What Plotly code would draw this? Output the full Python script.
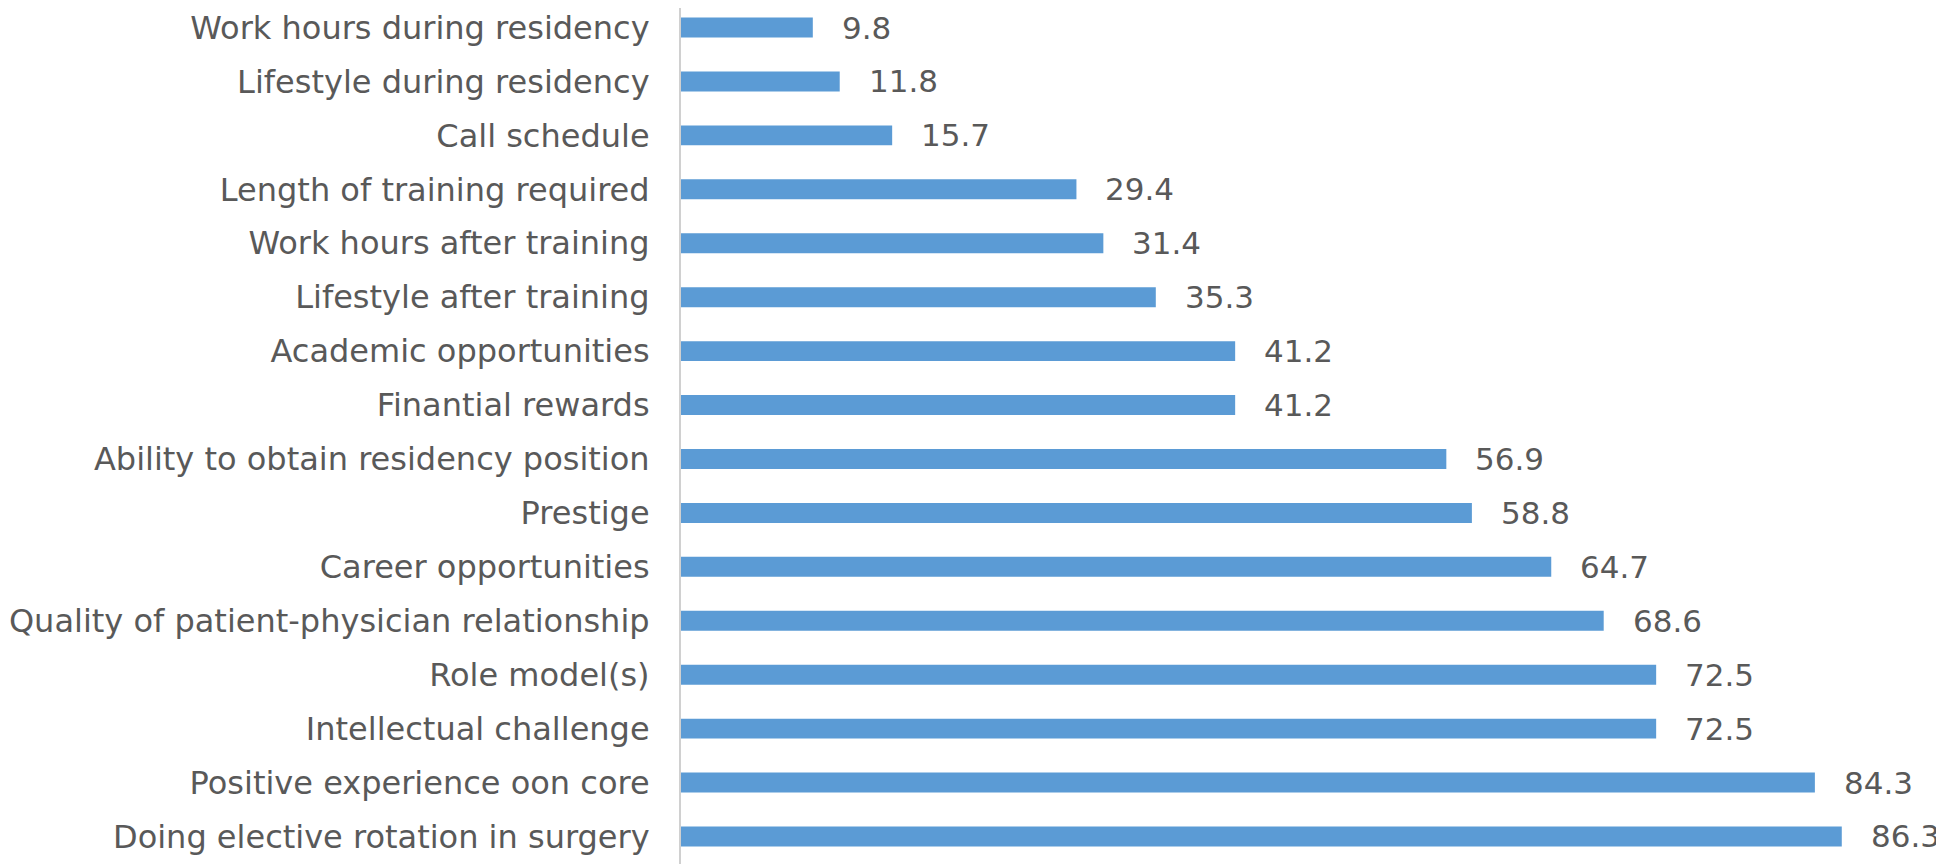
import plotly.graph_objects as go

categories = [
    "Work hours during residency",
    "Lifestyle during residency",
    "Call schedule",
    "Length of training required",
    "Work hours after training",
    "Lifestyle after training",
    "Academic opportunities",
    "Finantial rewards",
    "Ability to obtain residency position",
    "Prestige",
    "Career opportunities",
    "Quality of patient-physician relationship",
    "Role model(s)",
    "Intellectual challenge",
    "Positive experience oon core",
    "Doing elective rotation in surgery",
]
values = [9.8, 11.8, 15.7, 29.4, 31.4, 35.3, 41.2, 41.2, 56.9, 58.8, 64.7, 68.6, 72.5, 72.5, 84.3, 86.3]

FONT = "DejaVu Sans"
TXT = "#595959"

fig = go.Figure(go.Bar(
    x=values, y=categories, orientation="h",
    marker=dict(color="#5B9BD5", line=dict(color="#5B9BD5", width=0)),
))

for v, c in zip(values, categories):
    fig.add_annotation(x=v, y=c, text=f"{v:.1f}", showarrow=False,
                       xanchor="left", xshift=27, font=dict(family=FONT, size=31, color=TXT))

fig.update_layout(
    width=1944, height=864,
    margin=dict(l=673, r=8, t=0, b=8, autoexpand=False),
    paper_bgcolor="white", plot_bgcolor="white",
    bargap=0.63,
    showlegend=False,
    font=dict(family=FONT, size=32, color=TXT),
)
fig.update_xaxes(range=[0, 93.9], visible=False, showgrid=False, zeroline=False, automargin=False)
fig.update_yaxes(range=[15.51, -0.362], showgrid=False, zeroline=False, automargin=False,
                 showline=True, linecolor="#D0D0D0", linewidth=2,
                 ticks="", ticklabelstandoff=23,
                 tickfont=dict(family=FONT, size=32, color=TXT))

fig.write_html("out.html")
